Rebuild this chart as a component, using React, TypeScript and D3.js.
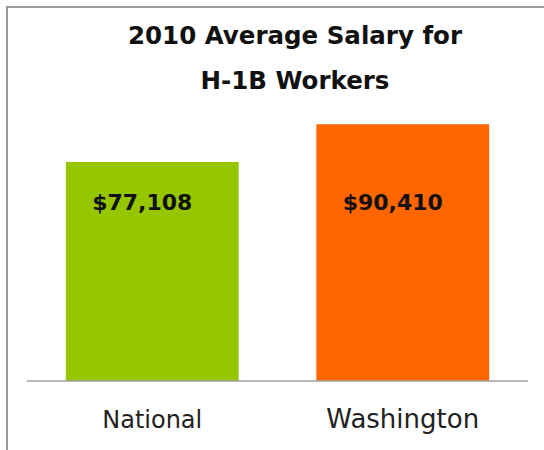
import * as d3 from "d3";

const WIDTH = 544;
const HEIGHT = 450;

const categories = ["National", "Washington"];
const salaries = [77108, 90410];
const barColors = ["#96c600", "#ff6600"];
const titleLines = ["2010 Average Salary for", "H-1B Workers"];

const FONT = "'DejaVu Sans', Verdana, sans-serif";

export default function App() {
  const x = d3
    .scaleBand<string>()
    .domain(categories)
    .range([27, 528])
    .paddingInner(0.31)
    .paddingOuter(0.155);

  const y = d3.scaleLinear().domain([0, 100000]).range([381, 97]);

  const fmt = d3.format("$,");

  return (
    <svg
      width={WIDTH}
      height={HEIGHT}
      style={{ position: "fixed", top: 0, left: 0, background: "#fff" }}
    >
      {/* frame, cut off at right and bottom */}
      <rect
        x={7}
        y={7}
        width={WIDTH}
        height={HEIGHT}
        fill="none"
        stroke="#9a9a9a"
        strokeWidth={2}
      />

      {titleLines.map((t, i) => (
        <text
          key={t}
          x={295}
          y={44 + i * 45}
          textAnchor="middle"
          fontFamily={FONT}
          fontWeight="bold"
          fontSize={24.5}
          fill="#111"
        >
          {t}
        </text>
      ))}

      {categories.map((c, i) => (
        <g key={c}>
          <rect
            x={x(c)}
            y={y(salaries[i])}
            width={x.bandwidth()}
            height={y(0) - y(salaries[i])}
            fill={barColors[i]}
          />
          <text
            x={x(c)! + x.bandwidth() / 2 - 10}
            y={210}
            textAnchor="middle"
            fontFamily={FONT}
            fontWeight="bold"
            fontSize={22}
            fill="#111"
          >
            {fmt(salaries[i])}
          </text>
          <text
            x={x(c)! + x.bandwidth() / 2}
            y={428}
            textAnchor="middle"
            fontFamily={FONT}
            fontSize={i === 0 ? 24 : 26}
            fill="#222"
          >
            {c}
          </text>
        </g>
      ))}

      <line
        x1={27}
        x2={528}
        y1={y(0)}
        y2={y(0)}
        stroke="#a0a0a0"
        strokeWidth={1.5}
      />
    </svg>
  );
}
